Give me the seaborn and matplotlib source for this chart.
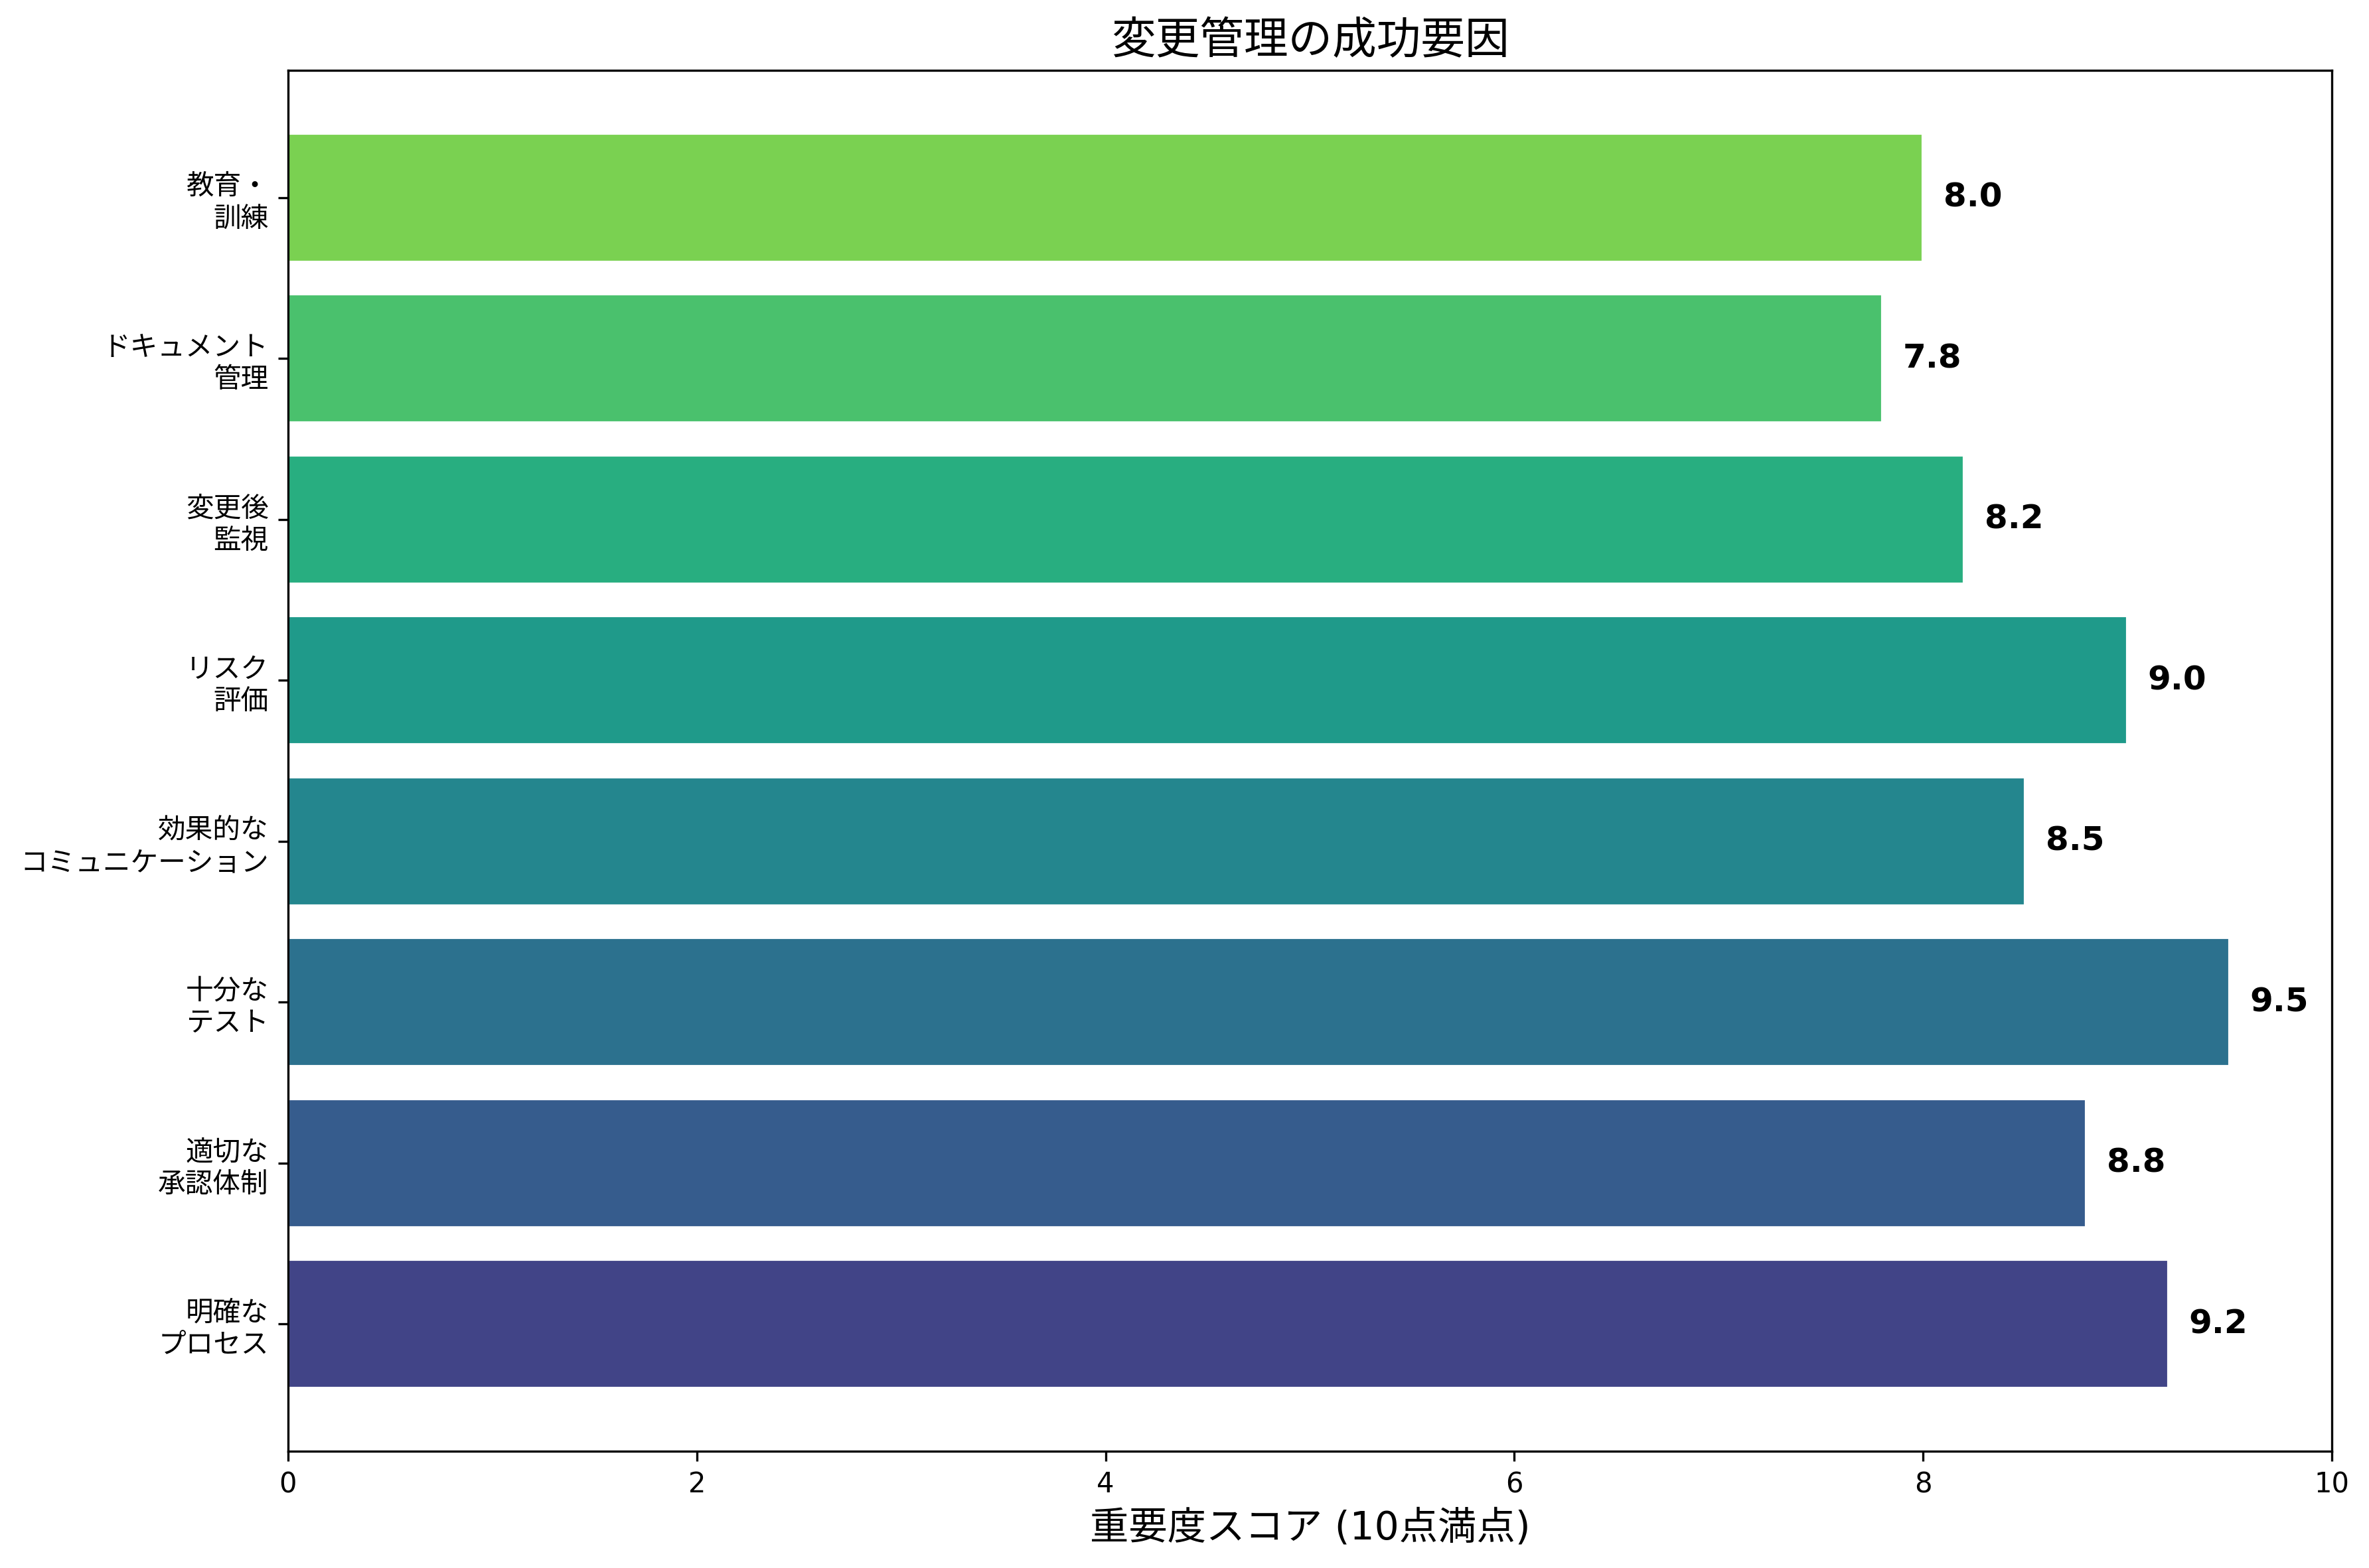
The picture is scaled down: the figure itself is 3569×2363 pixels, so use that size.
# horizontal bar chart of change management success factors

import numpy as np
import pandas as pd
import seaborn as sns
import matplotlib.pyplot as plt

# data (bottom to top as drawn in the original)
factors = ['明確な\nプロセス', '適切な\n承認体制', '十分な\nテスト', '効果的な\nコミュニケーション',
           'リスク\n評価', '変更後\n監視', 'ドキュメント\n管理', '教育・\n訓練']
scores = [9.2, 8.8, 9.5, 8.5, 9.0, 8.2, 7.8, 8.0]

df = pd.DataFrame({'factor': factors, 'score': scores})

sns.set_style('ticks', {'text.color': 'black', 'axes.labelcolor': 'black',
                        'xtick.color': 'black', 'ytick.color': 'black',
                        'axes.edgecolor': 'black'})
plt.rcParams['font.family'] = ['DejaVu Sans', 'Noto Sans CJK JP']

colors = plt.cm.viridis(np.linspace(0.2, 0.8, len(factors)))
palette = dict(zip(factors, colors))

fig, ax = plt.subplots(figsize=(3569 / 300, 2363 / 300), dpi=300)
fig.subplots_adjust(left=0.1216, right=0.9843, top=0.9551, bottom=0.0745)

# seaborn puts the first category on top, so pass the order reversed
order = factors[::-1]
sns.barplot(data=df, x='score', y='factor', hue='factor', order=order,
            hue_order=order, palette=palette, orient='h', width=0.8,
            saturation=1, legend=False, ax=ax)

for i, f in enumerate(order):
    v = df.loc[df['factor'] == f, 'score'].iloc[0]
    ax.text(v + 0.1, i, f'{v:.1f}', va='center', ha='left',
            fontsize=12, fontweight='bold', color='black')

ax.set_xlim(0, 10)
ax.set_ylim(len(order) - 1 + 0.79, -0.79)
ax.set_xticks([0, 2, 4, 6, 8, 10])
ax.tick_params(axis='both', labelsize=10, colors='black')
ax.set_xlabel('重要度スコア (10点満点)', fontsize=14, color='black')
ax.set_ylabel('')
ax.set_title('変更管理の成功要因', fontsize=16, color='black')
for s in ax.spines.values():
    s.set_visible(True)
    s.set_color('black')

plt.savefig('out.png', dpi=300)
